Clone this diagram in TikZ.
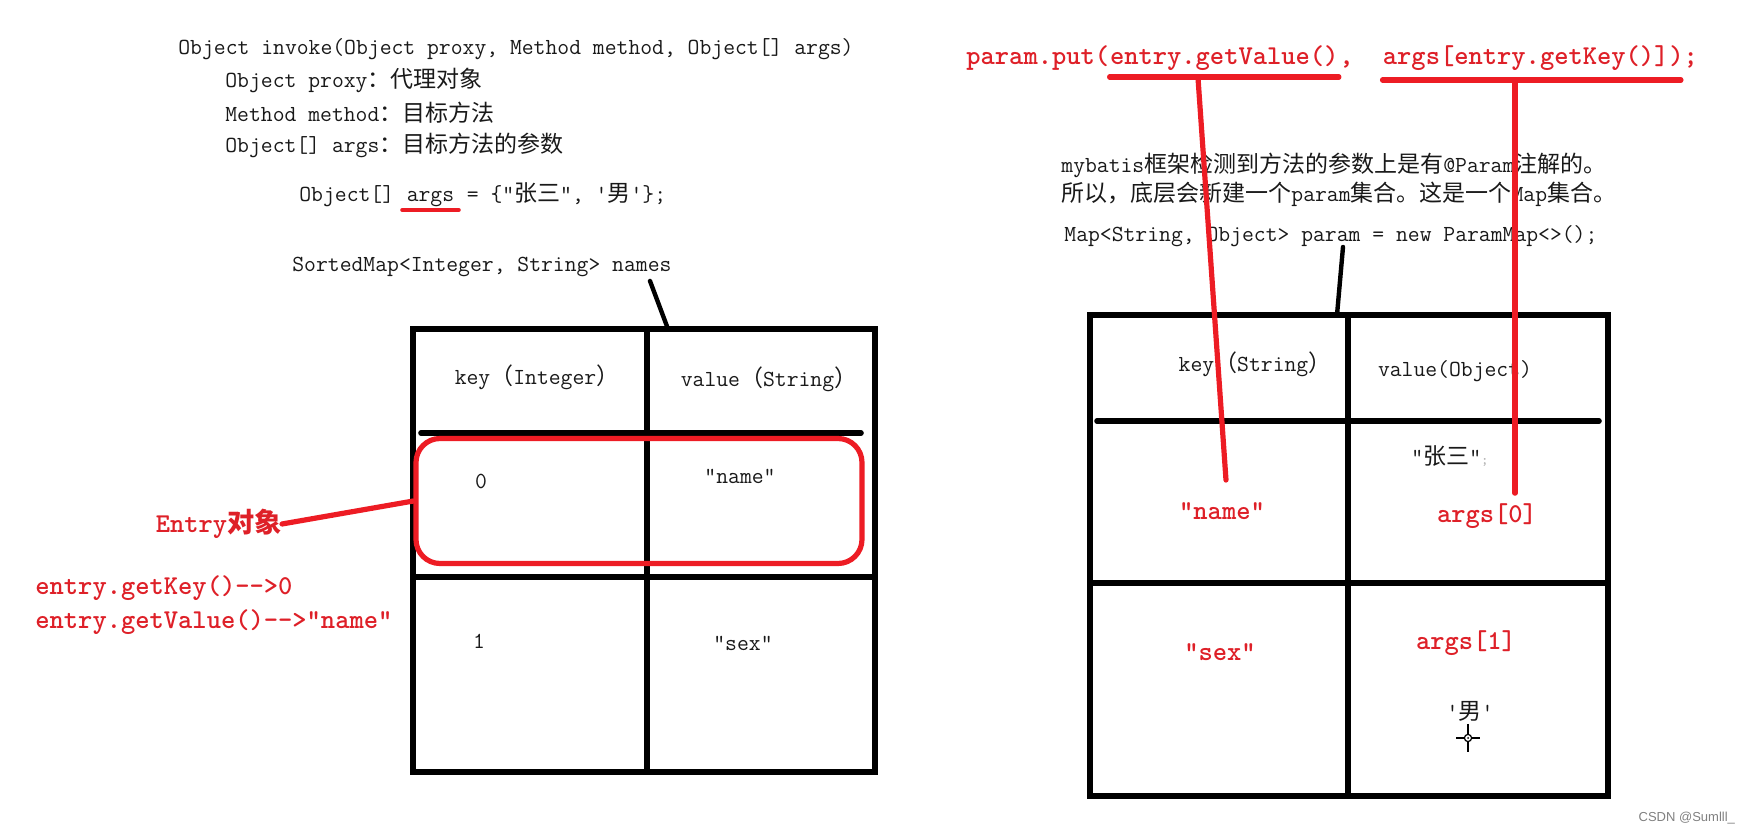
\documentclass[tikz,border=0pt]{standalone}
\usepackage{fontspec}
\newfontfamily\cjk{Noto Sans CJK SC}
\newfontfamily\wmfont{Liberation Sans}
\usetikzlibrary{positioning}
\definecolor{penred}{RGB}{237,28,36}
\definecolor{inkred}{RGB}{222,32,40}
\newcommand{\zh}[1]{{\cjk #1}}

\begin{document}
\begin{tikzpicture}[x=0.5pt, y=-0.5pt,
    code/.style={font=\ttfamily\fontsize{11.5}{14}\selectfont, text=black!90, inner sep=0pt},
    redcode/.style={font=\ttfamily\bfseries\fontsize{13.6}{16}\selectfont, text=inkred, inner sep=0pt},
    grid/.style={line width=2.8pt, line cap=round},
    pen/.style={penred, line width=2.6pt, line cap=round},
    tick/.style={line width=2.2pt, line cap=round},
    entrybox/.style={draw=penred, line width=2.6pt, rounded corners=12pt, inner sep=0pt}]

    \useasboundingbox (0,0) rectangle (1747,833);

    % invoke signature
    \node[code, anchor=west] (sig) at (178,49) {Object invoke(Object proxy, Method method, Object[] args)};
    \node[code, anchor=west] (proxy) at (225,80) {Object proxy\zh{：代理对象}};
    \node[code, anchor=west] (method) at (225,113) {Method method\zh{：目标方法}};
    \node[code, anchor=west] (params) at (225,145) {Object[] args\zh{：目标方法的参数}};

    % args array
    \node[code, anchor=west] (argsA) at (299,196) {Object[]\ \null};
    \node[code, anchor=base west] (args) at (argsA.base east) {args};
    \node[code, anchor=base west] (argsB) at (args.base east) {\null\ = \{"\zh{张三}", '\zh{男}'\};};
    \draw[pen, line width=2.2pt, shorten <=-2pt, shorten >=-2pt] ([yshift=-1.5pt]args.south west) -- ([yshift=-1.5pt]args.south east);

    % SortedMap table
    \node[code, anchor=west] (names) at (292,267) {SortedMap<Integer, String> names};
    \coordinate (namesFoot) at (650,281);
    \coordinate (ltop) at (668,329);
    \draw[tick] (namesFoot) -- (ltop);

    \draw[grid] (413,329) rectangle (875,772);
    \draw[grid] (647,329) -- (647,772);
    \draw[grid] (421,433) -- (861,433);
    \draw[grid] (413,577) -- (875,577);

    \node[code] (lkey) at (537,377) {key\zh{（}Integer\zh{）}};
    \node[code] (lval) at (769,379) {value\zh{（}String\zh{）}};
    \node[code] (k0) at (481,481) {0};
    \node[code] (v0) at (740,476) {"name"};
    \node[code] (k1) at (479,641) {1};
    \node[code] (v1) at (743,643) {"sex"};

    % Entry object
    \node[entrybox, minimum width=223pt, minimum height=62.5pt] (entry) at (639,501) {};
    \node[redcode, anchor=east] (entrylbl) at (282,524) {Entry\zh{对象}};
    \draw[pen] (entrylbl.east) -- (entry.west);

    \node[redcode, anchor=west] (getkey) at (35,588) {entry.getKey()-{}->0};
    \node[redcode, anchor=west] (getval) at (35,622) {entry.getValue()-{}->"name"};

    % param.put call
    \node[redcode, anchor=base west] (put) at (966,65) {param.put(};
    \node[redcode, anchor=base west] (gv) at (put.base east) {entry.getValue()};
    \node[redcode, anchor=base west] (sep) at (gv.base east) {,\ \ \null};
    \node[redcode, anchor=base west] (gk) at (sep.base east) {args[entry.getKey()]};
    \node[redcode, anchor=base west] (tail) at (gk.base east) {);};

    % mybatis note
    \node[code, anchor=west] (note1) at (1061,165) {mybatis\zh{框架检测到方法的参数上是有}@Param\zh{注解的。}};
    \node[code, anchor=west] (note2) at (1061,194) {\zh{所以，底层会新建一个}param\zh{集合。这是一个}Map\zh{集合。}};
    \node[code, anchor=west] (mapdecl) at (1064,236) {Map<String, Object> param = new ParamMap<>();};
    \coordinate (mapFoot) at (1343,247);
    \coordinate (rtop) at (1337,315);
    \draw[tick] (mapFoot) -- (rtop);

    % param map table
    \draw[grid] (1090,315) rectangle (1608,796);
    \draw[grid] (1348,315) -- (1348,796);
    \draw[grid] (1097,421) -- (1599,421);
    \draw[grid] (1090,583) -- (1608,583);

    \node[code] (rkey) at (1255,364) {key\zh{（}String\zh{）}};
    \node[code] (rval) at (1455,371) {value(Object)};
    \node[code] (zs) at (1450,456) {"\zh{张三}"{\color{gray!60}\fontsize{7}{8}\selectfont;}};
    \node[redcode] (rname) at (1222,511) {"name"};
    \node[redcode] (args0) at (1487,516) {args[0]};
    \node[redcode] (rsex) at (1220,652) {“sex”};
    \node[redcode] (args1) at (1466,643) {args[1]};
    \node[code] (nan) at (1470,711) {'\zh{男}'};

    % cursor
    \draw[line width=0.6pt] (1456,738) -- (1480,738) (1468,724) -- (1468,752);
    \draw[line width=0.6pt, fill=white] (1468,738) circle (1.8pt);
    \fill (1468,738) circle (0.5pt);

    % red links
    \draw[pen] ([yshift=-6pt]gv.base west) -- ([yshift=-6pt]gv.base east);
    \draw[pen, shorten >=-6pt] ([yshift=-7.5pt]gk.base west) -- ([yshift=-7.5pt]gk.base east);
    \coordinate (gvDrop) at (1198,78);
    \coordinate (gkDrop) at (1515,82);
    \coordinate (a0top) at (gkDrop |- args0.north);
    \draw[pen] (gvDrop) -- ([xshift=2pt, yshift=11pt]rname.north);
    \draw[pen] (gkDrop) -- ([yshift=5pt]a0top);

    % watermark
    \node[font=\wmfont\fontsize{6.5}{8}\selectfont, text=gray, anchor=east] (wm) at (1742,818) {CSDN @Sumlll\_};
\end{tikzpicture}
\end{document}
